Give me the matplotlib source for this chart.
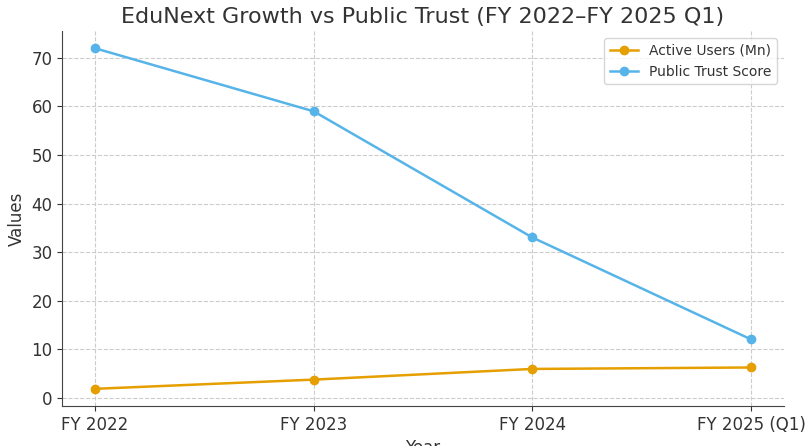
import numpy as np
from matplotlib import pyplot as plt

years = ["FY 2022", "FY 2023", "FY 2024", "FY 2025 (Q1)"]
active_users = [1.8, 3.7, 5.9, 6.2]
trust_score = [72, 59, 33, 12]

plt.rcParams['text.color'] = '#333333'
plt.rcParams['xtick.color'] = '#333333'
plt.rcParams['ytick.color'] = '#333333'
plt.rcParams['axes.labelcolor'] = '#333333'

fig, ax = plt.subplots(figsize=(8.08, 4.46), dpi=100)
x = np.arange(len(years))
ax.plot(x, active_users, marker='o', color='#E69F00', linewidth=1.8, label='Active Users (Mn)')
ax.plot(x, trust_score, marker='o', color='#56B4E9', linewidth=1.8, label='Public Trust Score')
ax.set_xticks(x)
ax.set_xticklabels(years, fontsize=12)
ax.tick_params(axis='y', labelsize=12)
ax.set_title("EduNext Growth vs Public Trust (FY 2022\u2013FY 2025 Q1)", fontsize=16)
ax.set_xlabel("Year", fontsize=12)
ax.set_ylabel("Values", fontsize=12)
ax.grid(True, linestyle='--', color='#cccccc', linewidth=0.8)
ax.spines['top'].set_visible(False)
ax.spines['right'].set_visible(False)
ax.spines['left'].set_color('#444444')
ax.spines['bottom'].set_color('#444444')
ax.legend(loc='upper right', fontsize=10)
fig.subplots_adjust(left=0.077, right=0.97, top=0.93, bottom=0.09)
fig.savefig('out.png')
